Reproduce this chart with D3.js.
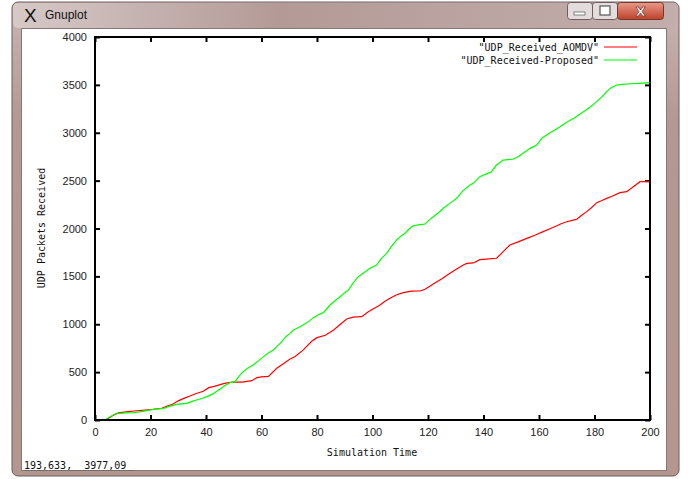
<!DOCTYPE html>
<html><head><meta charset="utf-8">
<script src="https://cdn.jsdelivr.net/npm/d3@7"></script>
<style>body{margin:0;background:#fff;}svg{display:block;}</style>
</head><body>
<svg id="c" width="688" height="479"></svg>
<script>
// ---- data ----
const seriesNames = ['"UDP_Received_AOMDV"', '"UDP_Received-Proposed"'];
const seriesColors = ["#ff0000", "#00ff00"];
const aomdvTime = [4,6,8,9,12,14,18,21,24,26,28,30,32,34,36,39,41,43,46,48,50,53,56.5,58.3,60,62.5,65.5,68,70.3,72,75,78,80,83,86,88,90.7,93,96.1,98.5,100.5,102.7,104.5,106.3,108.5,111.1,114,117.1,118.9,120.5,121.9,125,127.9,130.5,132.7,134,136.3,138.7,141,144.7,147.1,149.5,152.5,155.6,158.5,161.5,165,168,170,172,173.6,175.5,177.2,179,180.8,182.5,184.4,186.5,189.2,191.6,194,196.4,200];
const aomdvValues = [0,40,70,77,88,94,104,112,122,145,164,200,226,248,271,300,338,352,378,390,395,395,411,442,450,455,540,590,637,660,730,820,860,885,940,990,1055,1075,1079,1131,1165,1201,1240,1271,1305,1330,1345,1347,1365,1395,1420,1475,1532,1580,1619,1636,1640,1675,1680,1689,1758,1828,1860,1897,1930,1967,2010,2050,2071,2085,2096,2140,2176,2220,2270,2290,2315,2340,2374,2385,2437,2489,2489];
const proposedTime = [3.6,5,7.2,9,11,13.8,16,18.6,21,24.6,27,29.4,31,33,35,36.6,38.5,40.3,42,43.2,45,46.2,48.6,50.5,52,53.4,55,57,59,60.7,62.5,64.3,66,67.3,68.8,70.3,71.5,73,75,77,78.7,80.5,82.3,84.7,86.5,88.3,90,91.3,93,94.9,97,99.1,101.5,103,105.1,106.8,108.7,110,111.7,113.5,114.7,117,118.9,120.5,121.9,124,125.5,128,130.3,132.5,135.1,136.3,138.7,141,142.9,144.7,147.1,150.7,152.5,154.5,156.8,159.2,161,164,167.6,170,173,176,178.5,180.8,182.5,184.4,186,188,190,193,196,200];
const proposedValues = [0,25,63,70,74,77,85,97,110,122,145,164,168,174,195,209,225,244,265,286,320,348,390,400,460,505,540,574,620,662,700,731,780,818,870,905,940,960,992,1030,1069,1100,1121,1201,1245,1288,1330,1358,1430,1497,1540,1584,1619,1680,1741,1810,1880,1915,1950,2002,2029,2040,2047,2090,2123,2170,2211,2265,2315,2390,2454,2472,2541,2570,2593,2663,2715,2726,2750,2790,2837,2872,2942,3000,3063,3110,3160,3220,3270,3325,3370,3429,3470,3499,3505,3512,3515,3523];
const xTicks = [0,20,40,60,80,100,120,140,160,180,200];
const yTicks = [0,500,1000,1500,2000,2500,3000,3500,4000];
const xLabel = "Simulation Time";
const yLabel = "UDP Packets Received";
const windowTitle = "Gnuplot";
const statusText = "193,633,\u00a0\u00a03977,09";

// ---- drawing ----
const svg = d3.select("#c");
const defs = svg.append("defs");
const tg = defs.append("linearGradient").attr("id","tb").attr("x1",0).attr("y1",0).attr("x2",1).attr("y2",0);
tg.append("stop").attr("offset","0%").attr("stop-color","#d6c9c8");
tg.append("stop").attr("offset","40%").attr("stop-color","#b39a97");
tg.append("stop").attr("offset","100%").attr("stop-color","#c2aeac");
const fg = defs.append("linearGradient").attr("id","fr").attr("x1",0).attr("y1",0).attr("x2",0).attr("y2",1);
fg.append("stop").attr("offset","0%").attr("stop-color","#c9b6b3");
fg.append("stop").attr("offset","25%").attr("stop-color","#b39893");
fg.append("stop").attr("offset","100%").attr("stop-color","#b3978f");
const cg = defs.append("linearGradient").attr("id","cl").attr("x1",0).attr("y1",0).attr("x2",0).attr("y2",1);
cg.append("stop").attr("offset","0%").attr("stop-color","#e89a88");
cg.append("stop").attr("offset","100%").attr("stop-color","#c0402a");

// window frame
svg.append("rect").attr("x",12).attr("y",2).attr("width",667).attr("height",474).attr("rx",6)
  .attr("fill","url(#fr)").attr("stroke","#6f5c5a").attr("stroke-width",1);
svg.append("rect").attr("x",13).attr("y",3).attr("width",665).attr("height",25).attr("rx",5).attr("fill","url(#tb)");
// client area
svg.append("rect").attr("x",21.5).attr("y",28.5).attr("width",645).attr("height",442)
  .attr("fill","#fff").attr("stroke","#8a7775").attr("stroke-width",1);

// title
svg.append("text").attr("x",24).attr("y",22).attr("font-family","Liberation Sans, Arial, sans-serif")
  .attr("font-size",19).attr("fill","#111").text("X");
svg.append("text").attr("x",45).attr("y",19).attr("font-family","Liberation Sans, Arial, sans-serif")
  .attr("font-size",12).attr("fill","#111").text(windowTitle);

// buttons
const bg = svg.append("g");
bg.append("rect").attr("x",567.5).attr("y",2.5).attr("width",25).attr("height",17).attr("rx",3)
  .attr("fill","#e4dcdc").attr("stroke","#6e5f5e");
bg.append("rect").attr("x",574).attr("y",12).attr("width",11).attr("height",3).attr("fill","#fff").attr("stroke","#555").attr("stroke-width",0.7);
bg.append("rect").attr("x",592.5).attr("y",2.5).attr("width",25).attr("height",17).attr("rx",3)
  .attr("fill","#e4dcdc").attr("stroke","#6e5f5e");
bg.append("rect").attr("x",600).attr("y",6).attr("width",10).attr("height",9).attr("fill","#fff").attr("stroke","#555").attr("stroke-width",1.2);
bg.append("rect").attr("x",617.5).attr("y",2.5).attr("width",46).attr("height",17).attr("rx",3)
  .attr("fill","url(#cl)").attr("stroke","#6e3a30");
bg.append("text").attr("x",640.5).attr("y",16).attr("text-anchor","middle").attr("font-family","DejaVu Sans, sans-serif")
  .attr("font-weight","bold").attr("font-size",13).attr("fill","#fff").attr("stroke","#5a2a20").attr("stroke-width",0.6).text("X");

// plot
const x = d3.scaleLinear().domain([0,200]).range([95,650]);
const y = d3.scaleLinear().domain([0,4000]).range([420,37]);
const plot = svg.append("g");
const monoFont = "DejaVu Sans Mono, monospace";
const tickFont = "Liberation Sans, Arial, sans-serif";

const xAxisB = d3.axisBottom(x).tickValues(xTicks).tickSize(-5).tickPadding(8).tickFormat(d3.format("d"));
const xAxisT = d3.axisTop(x).tickValues(xTicks).tickSize(-5).tickFormat("");
const yAxisL = d3.axisLeft(y).tickValues(yTicks).tickSize(-5).tickPadding(8).tickFormat(d3.format("d"));
const yAxisR = d3.axisRight(y).tickValues(yTicks).tickSize(-5).tickFormat("");
function style(g){ g.select(".domain").remove(); g.selectAll("line").attr("stroke","#000").attr("stroke-width",2);
  g.selectAll("text").attr("font-family",tickFont).attr("font-size",11).attr("fill","#222"); }
plot.append("g").attr("transform","translate(0,420)").call(xAxisB).call(style);
plot.append("g").attr("transform","translate(0,37)").call(xAxisT).call(style);
plot.append("g").attr("transform","translate(95,0)").call(yAxisL).call(style);
plot.append("g").attr("transform","translate(650,0)").call(yAxisR).call(style);

// lines
const series = [d3.zip(aomdvTime, aomdvValues), d3.zip(proposedTime, proposedValues)];
series.forEach((s,i)=>{
  plot.append("path").datum(s).attr("d", d3.line().x(d=>x(d[0])).y(d=>y(d[1])))
    .attr("fill","none").attr("stroke",seriesColors[i]).attr("stroke-width",1.2);
});

// frame
plot.append("rect").attr("x",95).attr("y",37).attr("width",555).attr("height",383)
  .attr("fill","none").attr("stroke","#000").attr("stroke-width",2);

// legend
seriesNames.forEach((n,i)=>{
  const ly = 47 + i*13;
  plot.append("text").attr("x",599).attr("y",ly+4).attr("text-anchor","end")
    .attr("font-family",monoFont).attr("font-size",10).attr("fill","#111").text(n);
  plot.append("line").attr("x1",604).attr("x2",637).attr("y1",ly).attr("y2",ly)
    .attr("stroke",seriesColors[i]).attr("stroke-width",1.2);
});

// axis labels
svg.append("text").attr("transform","translate(45,228) rotate(-90)").attr("text-anchor","middle")
  .attr("font-family",monoFont).attr("font-size",10).attr("fill","#111").text(yLabel);
svg.append("text").attr("x",372).attr("y",456).attr("text-anchor","middle")
  .attr("font-family",monoFont).attr("font-size",10).attr("fill","#111").text(xLabel);

// status
svg.append("text").attr("x",24).attr("y",469).attr("font-family",monoFont).attr("font-size",10)
  .attr("fill","#111").text(statusText);
svg.append("line").attr("x1",24).attr("x2",134).attr("y1",470.5).attr("y2",470.5).attr("stroke","#666").attr("stroke-width",0.6);
</script>
</body></html>
